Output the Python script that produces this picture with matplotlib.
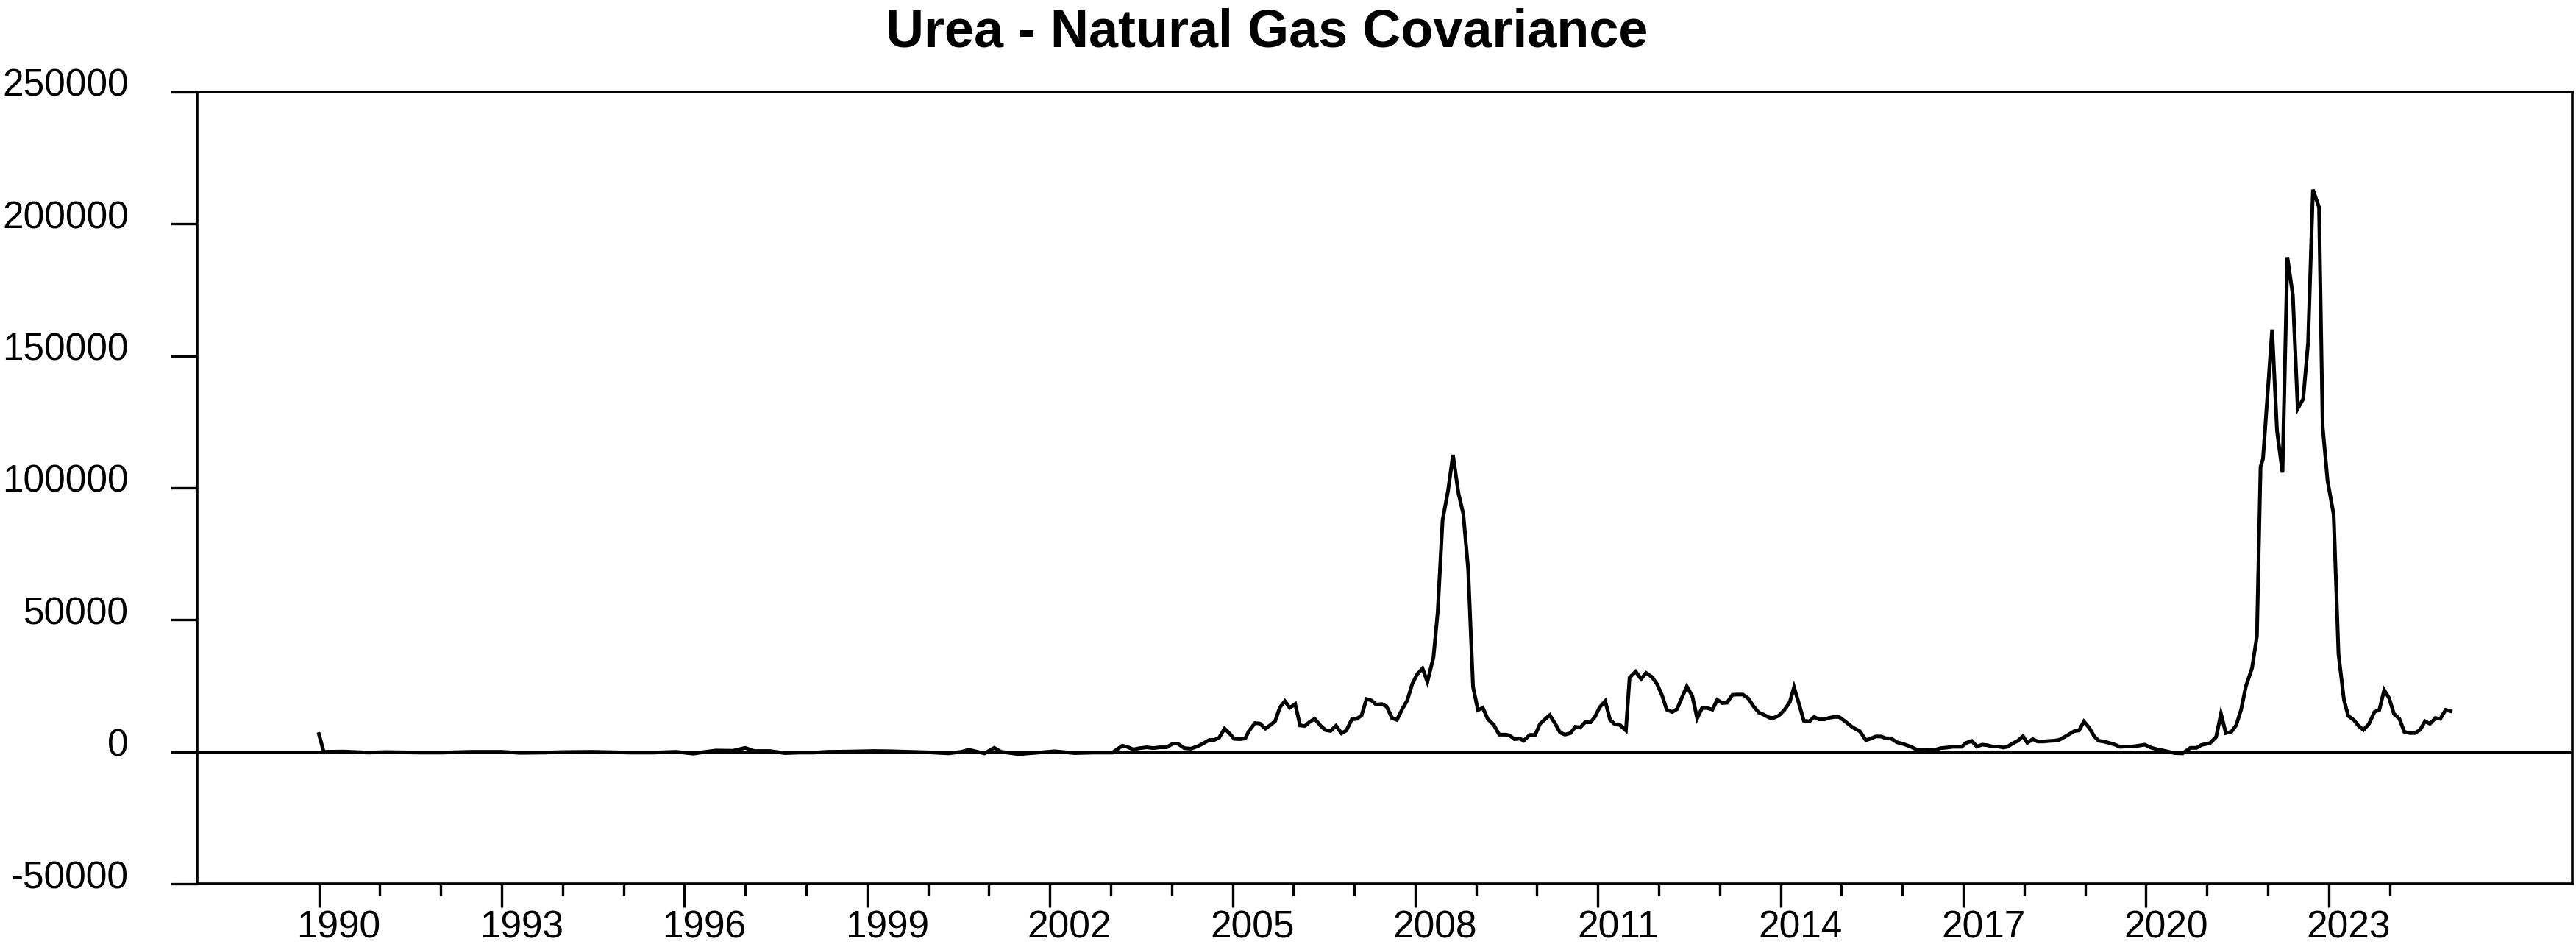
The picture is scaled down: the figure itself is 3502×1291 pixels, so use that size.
import matplotlib
matplotlib.use('Agg')
import matplotlib.pyplot as plt
import matplotlib.transforms as mtransforms

plt.rcParams['font.family'] = ['Liberation Sans', 'DejaVu Sans']

years = [
    1990.00, 1990.08, 1990.40, 1990.81, 1991.10, 1991.63, 1992.03, 1992.50,
    1993.00, 1993.30, 1993.71, 1994.00, 1994.50, 1995.09, 1995.50, 1995.86,
    1996.15, 1996.35, 1996.52, 1996.80, 1997.00, 1997.15, 1997.40, 1997.65,
    1997.90, 1998.14, 1998.35, 1998.70, 1999.12, 1999.40, 1999.70, 2000.00,
    2000.34, 2000.55, 2000.67, 2000.85, 2000.93, 2001.09, 2001.20, 2001.49,
    2001.70, 2002.08, 2002.41, 2002.73, 2003.03,
    2003.19, 2003.27, 2003.37, 2003.48, 2003.59, 2003.70, 2003.81, 2003.92,
    2004.02, 2004.10, 2004.21, 2004.32, 2004.43, 2004.53, 2004.62, 2004.70,
    2004.78, 2004.87, 2004.95, 2005.03, 2005.13, 2005.21, 2005.27, 2005.37,
    2005.45, 2005.54, 2005.62, 2005.70, 2005.78, 2005.86, 2005.94, 2006.03,
    2006.11, 2006.19, 2006.27, 2006.35, 2006.45, 2006.53, 2006.61, 2006.70,
    2006.79, 2006.87, 2006.96, 2007.04, 2007.12, 2007.20, 2007.28, 2007.36,
    2007.45, 2007.53, 2007.62, 2007.70, 2007.79, 2007.87, 2007.95, 2008.03,
    2008.12, 2008.20, 2008.30, 2008.37, 2008.45, 2008.54, 2008.62, 2008.71,
    2008.79, 2008.87, 2008.95, 2009.03, 2009.11, 2009.19, 2009.29, 2009.38,
    2009.49, 2009.55, 2009.63, 2009.72, 2009.78, 2009.88, 2009.97, 2010.05,
    2010.13, 2010.21, 2010.30, 2010.38, 2010.46, 2010.55, 2010.63, 2010.71,
    2010.79, 2010.88, 2010.95, 2011.03, 2011.12, 2011.20, 2011.28, 2011.36,
    2011.46, 2011.52, 2011.62, 2011.71, 2011.79, 2011.89, 2011.97, 2012.05,
    2012.13, 2012.22, 2012.30, 2012.38, 2012.46, 2012.55, 2012.63, 2012.71,
    2012.79, 2012.88, 2012.96, 2013.04, 2013.12, 2013.21, 2013.29, 2013.38,
    2013.47, 2013.55, 2013.64, 2013.72, 2013.82, 2013.89, 2013.97, 2014.06,
    2014.15, 2014.22, 2014.30, 2014.38, 2014.47, 2014.55, 2014.63, 2014.72,
    2014.80, 2014.88, 2014.96,
    2015.06, 2015.18, 2015.30, 2015.40, 2015.48, 2015.56, 2015.65, 2015.73,
    2015.81, 2015.91, 2016.01, 2016.13, 2016.23, 2016.33, 2016.45, 2016.54,
    2016.63, 2016.73, 2016.83, 2016.97, 2017.05, 2017.14, 2017.22, 2017.31,
    2017.39, 2017.48, 2017.58, 2017.66, 2017.73, 2017.81, 2017.89, 2017.98,
    2018.05, 2018.14, 2018.22, 2018.32, 2018.40, 2018.49, 2018.57, 2018.66,
    2018.74, 2018.82, 2018.90, 2018.98, 2019.07, 2019.15, 2019.22, 2019.30,
    2019.39, 2019.49, 2019.57, 2019.67, 2019.77, 2019.87, 2019.98, 2020.08,
    2020.19,
    2020.30, 2020.47, 2020.60, 2020.73, 2020.83, 2020.91, 2021.05, 2021.15,
    2021.23, 2021.31, 2021.40, 2021.48, 2021.56, 2021.64, 2021.74, 2021.82,
    2021.88, 2021.92, 2022.07, 2022.15, 2022.24, 2022.32, 2022.41, 2022.49,
    2022.58, 2022.66, 2022.74, 2022.84, 2022.90, 2022.98, 2023.08, 2023.16,
    2023.25, 2023.32, 2023.41, 2023.49, 2023.57, 2023.66, 2023.75, 2023.83,
    2023.91, 2023.99, 2024.07, 2024.16, 2024.24, 2024.33, 2024.41, 2024.50,
    2024.58, 2024.66, 2024.75, 2024.83, 2024.92, 2025.00,
]

cov = [
    6700, 0, 100, -300, -100, -300, -300, 0,
    0, -400, -300, -100, 0, -300, -300, 0,
    -700, 0, 500, 400, 1500, 300, 300, -500,
    -300, -300, 0, 100, 300, 200, 0, -200,
    -600, 0, 800, -200, -600, 1500, 0, -900,
    -500, 200, -500, -300, -300,
    2300, 1900, 900, 1400, 1700, 1400, 1700, 1700,
    3100, 3100, 1400, 1200, 2100, 3300, 4500, 4500,
    5300, 8800, 7000, 4900, 4800, 5100, 7900, 10900,
    10700, 8800, 10100, 11600, 16900, 19200, 16700, 18100,
    10000, 9800, 11400, 12500, 9800, 8200, 7900, 9900,
    7000, 8100, 12300, 12500, 13800, 20000, 19500, 17900,
    18100, 17200, 12800, 12100, 16300, 19500, 25600, 29300,
    31600, 26500, 35800, 53000, 87800, 99000, 112500, 98000,
    90100, 69200, 24600, 15800, 16700, 12500, 10200, 6500,
    6500, 6200, 4800, 5000, 4200, 6400, 6400, 10600,
    12300, 13900, 10600, 7300, 6500, 7100, 9500, 9200,
    11200, 11200, 13200, 16900, 19200, 12100, 10400, 10200,
    8100, 28100, 30400, 27600, 29900, 28300, 25700, 21600,
    16000, 15100, 16200, 20600, 24800, 21100, 12700, 16600,
    16600, 16000, 19700, 18500, 18600, 21600, 21700, 21700,
    20200, 17400, 14900, 14100, 12900, 12900, 13700, 15800,
    18800, 24500, 18300, 11800, 11500, 13200, 12300, 12300,
    12900, 13200, 13200,
    11500, 9300, 7800, 4400, 5000, 5800, 5800, 5100,
    5100, 3600, 3000, 2000, 900, 800, 900, 800,
    1400, 1600, 1900, 1900, 3400, 4100, 2000, 2700,
    2500, 2000, 2000, 1600, 2000, 3200, 4100, 5900,
    3400, 4800, 3900, 3900, 4100, 4200, 4500, 5600,
    6700, 7800, 8100, 11500, 9000, 5800, 4200, 3900,
    3400, 2700, 1900, 2000, 2000, 2300, 2700, 1600,
    900,
    400, -500, -600, 1500, 1500, 2600, 3300, 5600,
    14400, 7100, 7600, 10100, 15900, 24900, 31700, 43800,
    108000, 111000, 160000, 121600, 105800, 187400, 173000, 130000,
    133700, 154900, 213000, 206300, 123100, 102700, 89900, 37000,
    19600, 13600, 12100, 9800, 8300, 10600, 15100, 15900,
    23400, 20400, 14400, 12500, 7600, 7100, 7100, 8300,
    11600, 10600, 12800, 12500, 15900, 15400,
]

ytick_vals = [-50000, 0, 50000, 100000, 150000, 200000, 250000]
ytick_labels = ['-50000', '0', '50000', '100000', '150000', '200000', '250000']
xtick_major = list(range(1990, 2024, 3))
xtick_minor = list(range(1990, 2025))
xtick_labels = [str(y) for y in xtick_major]

fig = plt.figure(figsize=(35.02, 12.91), dpi=100)
ax = fig.add_axes([0.0765, 0.0697, 0.9221, 0.8335])

ax.plot(years, cov, color='black', lw=3.6, solid_joinstyle='miter')
ax.axhline(0, color='black', lw=2.9)

ax.set_xlim(1988, 2027)
ax.set_ylim(-50000, 250000)

ax.set_xticks(xtick_major)
ax.set_xticklabels(xtick_labels)
ax.set_xticks(xtick_minor, minor=True)
ax.set_yticks(ytick_vals)
ax.set_yticklabels(ytick_labels)

for s in ax.spines.values():
    s.set_linewidth(2.6)

ax.tick_params(axis='x', which='major', length=23, width=2.4, pad=2.5, labelsize=37)
ax.tick_params(axis='x', which='minor', length=11.5, width=2.4)
ax.tick_params(axis='y', which='major', length=26, width=2.4, pad=41, labelsize=37)

# labels sit a little right of their year tick, y labels a little above theirs
xoff = mtransforms.ScaledTranslation(0.27, 0, fig.dpi_scale_trans)
for lbl in ax.get_xticklabels():
    lbl.set_transform(lbl.get_transform() + xoff)
yoff = mtransforms.ScaledTranslation(0, -0.06, fig.dpi_scale_trans)
for lbl in ax.get_yticklabels():
    lbl.set_va('baseline')
    lbl.set_transform(lbl.get_transform() + yoff)

fig.text(0.4917, 0.9512, 'Urea - Natural Gas Covariance', ha='center', va='baseline',
         fontsize=51.8, fontweight='bold')

fig.savefig('out.png', dpi=100)
